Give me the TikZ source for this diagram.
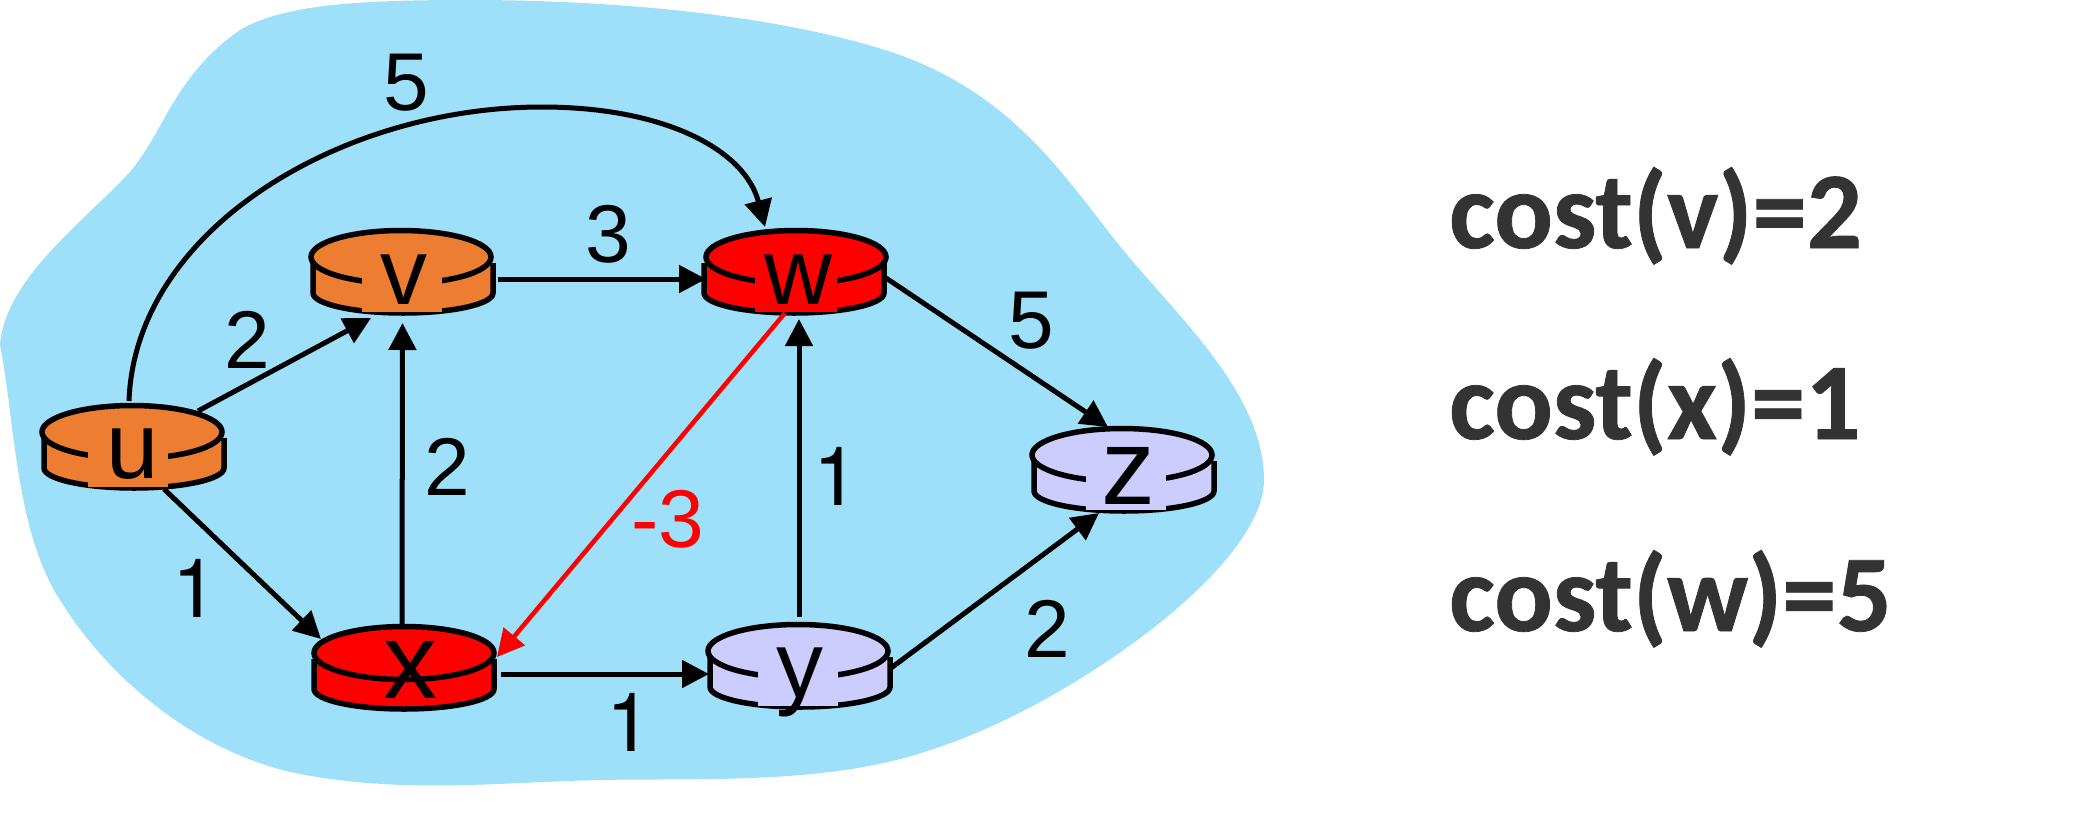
\documentclass[tikz,border=0pt]{standalone}
\usepackage{fontspec}
\setmainfont{Liberation Sans}
\newfontfamily\onefont{TeX Gyre Heros}
\newfontfamily\costfont{Carlito}[BoldFont={Carlito Bold},BoldFeatures={FakeBold=0.7}]
\usetikzlibrary{arrows.meta,calc}
\definecolor{cloud}{HTML}{9EE0FA}
\definecolor{pkorange}{HTML}{ED7D31}
\definecolor{pkred}{HTML}{FF0000}
\definecolor{pklav}{HTML}{CCCCFF}
\definecolor{costgray}{HTML}{333333}
\tikzset{
  link/.style={line width=5pt,-{Triangle[length=27pt,width=27pt]}},
  neglink/.style={link,line width=4.5pt,pkred},
  pucklabel/.style={anchor=base,inner sep=0pt,font=\fontsize{94}{94}\selectfont},
  puckbig/.style={pucklabel,font=\fontsize{108}{108}\selectfont},
  weight/.style={anchor=base,inner sep=0pt,font=\fontsize{82}{82}\selectfont},
  weightone/.style={weight,font=\onefont\fontsize{82}{82}\selectfont},
  costtext/.style={anchor=base west,inner sep=0pt,text=costgray,font=\costfont\bfseries\fontsize{109}{109}\selectfont}
}
% #1 name, #2 x, #3 y, #4 colour, #5 body dx, #6 cover half width (0 = none), #7 cover dx
\newcommand\puck[7]{%
  \coordinate (#1) at (#2,#3);
  \begin{scope}[shift={(#2,#3)}]
    \begin{scope}[xshift=#5pt]
      \path[fill=#4,draw=black,line width=5.5pt]
        (-90,6) -- (-90,36) .. controls (-90,47) and (-50,56) .. (0,56)
        .. controls (50,56) and (90,47) .. (90,36) -- (90,6);
    \end{scope}
    \draw[fill=#4,line width=5.5pt] (0,0) ellipse [x radius=90pt,y radius=26.5pt];
    \ifnum#6>0
      \fill[#4] ({#7-#6},6) rectangle ({#7+#6},55);
    \fi
  \end{scope}}
\begin{document}
\begin{tikzpicture}[x=1pt,y=-1pt]
\useasboundingbox (0,0) rectangle (2096,820);
\fill[cloud] (0,345) .. controls (5,280) and (80,225) .. (130,172)
  .. controls (165,130) and (175,75) .. (240,30)
  .. controls (285,3) and (370,0) .. (470,0)
  .. controls (640,0) and (800,20) .. (900,55)
  .. controls (1010,95) and (1060,170) .. (1115,240)
  .. controls (1170,310) and (1264,390) .. (1264,480)
  .. controls (1264,570) and (1060,710) .. (930,750)
  .. controls (830,785) and (700,778) .. (600,780)
  .. controls (500,782) and (400,795) .. (290,772)
  .. controls (180,745) and (100,665) .. (60,600)
  .. controls (15,530) and (15,420) .. (0,345) -- cycle;
\puck{u}{132}{432}{pkorange}{2}{40}{-4}
\puck{v}{401}{257}{pkorange}{2}{40}{1}
\puck{w}{796}{257}{pkred}{-2}{41}{0}
\puck{x}{404}{653}{pkred}{0}{0}{0}
\puck{y}{798}{651}{pklav}{2}{40}{0}
\puck{z}{1122}{455}{pklav}{2}{40}{4}
\node[pucklabel] (lu) at ($(u)+(1,46)$) {u};
\node[pucklabel] (lv) at ($(v)+(3,47)$) {v};
\node[pucklabel] (lw) at ($(w)+(2,47)$) {w};
\node[puckbig] (lx) at ($(x)+(6,45)$) {x};
\node[pucklabel] (ly) at ($(y)+(2,46)$) {y};
\node[puckbig] (lz) at ($(z)+(6,49)$) {z};
\draw[link] ($(u)+(66,-21)$) -- ($(v)+(-30,61)$);
\draw[link] ($(x)+(-2,-24)$) -- ($(v)+(1.5,66)$);
\draw[link] ($(v)+(96.5,22)$) -- ($(w)+(-90,22)$);
\draw[link] ($(u)+(-3,-31)$) .. controls (135,230) and (340,107) .. (542,107)
  .. controls (665,107) and (745,150) .. ($(w)+(-31,-30)$);
\draw[link] ($(u)+(32,57)$) -- ($(x)+(-83,-14)$);
\draw[neglink] ($(w)+(-11,56)$) -- ($(x)+(93,4)$);
\draw[link] ($(y)+(1,-34)$) -- ($(w)+(3,62)$);
\draw[link] ($(w)+(90,21)$) -- ($(z)+(-14,-28)$);
\draw[link] ($(x)+(97,21)$) -- ($(y)+(-89,23)$);
\draw[link] ($(y)+(93,17)$) -- ($(z)+(-23,58)$);
\node[weight] (n5a) at (406,110) {5};
\node[weight] (n3) at (608,262) {3};
\node[weight] (n2a) at (247,368) {2};
\node[weight] (n5b) at (1031,348) {5};
\node[weight] (n2b) at (447,495) {2};
\node[weightone] (n1a) at (836,505) {1};
\node[weightone] (n1b) at (195,617) {1};
\node[weightone] (n1c) at (629,751) {1};
\node[weight] (n2c) at (1047,657) {2};
\node[weight,text=pkred] (nm3) at (668,547) {-3};
\node[costtext] (c1) at (1449,248) {cost(v)=2};
\node[costtext] (c2) at (1449,439) {cost(x)=1};
\node[costtext] (c3) at (1449,631) {cost(w)=5};
\end{tikzpicture}
\end{document}
